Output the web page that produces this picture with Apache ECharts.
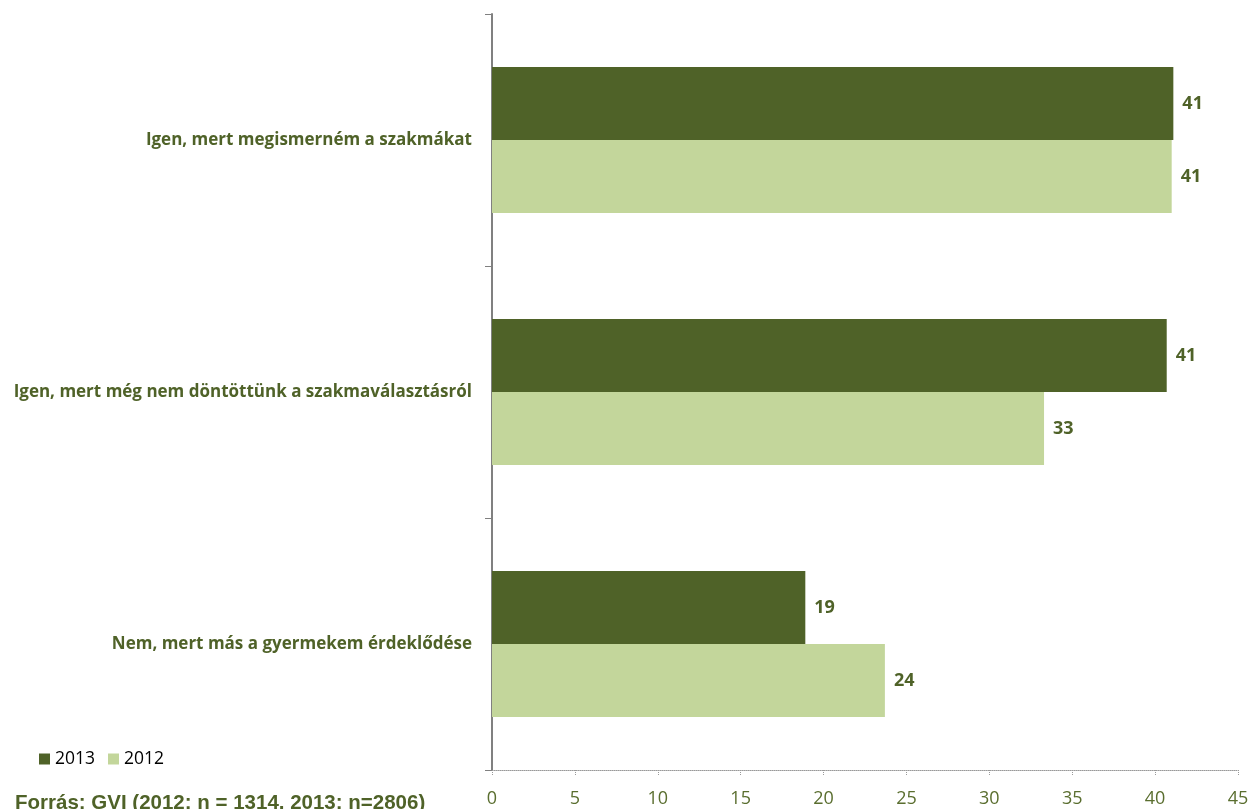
<!DOCTYPE html>
<html><head><meta charset="utf-8">
<script src="https://cdn.jsdelivr.net/npm/echarts@6/dist/echarts.min.js"></script>
<style>html,body{margin:0;padding:0;background:#fff}#c{width:1258px;height:809px}</style>
</head><body><div id="c"></div>
<script>
const categories = ["Igen, mert megismerném a szakmákat", "Igen, mert még nem döntöttünk a szakmaválasztásról", "Nem, mert más a gyermekem érdeklődése"];
const seriesNames = ["2013", "2012"];
const values2013 = [41.1, 40.7, 18.9];
const values2012 = [41.0, 33.3, 23.7];
const xTicks = [0, 5, 10, 15, 20, 25, 30, 35, 40, 45];
const sourceText = "Forrás: GVI (2012: n = 1314, 2013: n=2806)";

const green = '#4f6228';
const chart = echarts.init(document.getElementById('c'), null, {renderer: 'canvas'});
const labelCfg = {show: true, position: 'right', distance: 9, color: green, fontWeight: 'bold', fontSize: 18, fontFamily: 'Open Sans', formatter: p => Math.round(p.value)};
chart.setOption({
  animation: false,
  grid: {left: 492, right: 20, top: 14, bottom: 39},
  legend: {left: 34, top: 745, itemWidth: 11, itemHeight: 11, itemGap: 13, icon: 'rect',
    textStyle: {color: '#000', fontSize: 17.5, fontFamily: 'Open Sans'}, data: seriesNames},
  xAxis: {type: 'value', min: xTicks[0], max: xTicks[xTicks.length-1], interval: 5,
    axisLine: {show: true, lineStyle: {color: '#999', type: 'dotted', width: 1}},
    axisTick: {show: true, lineStyle: {color: '#999', type: 'dotted'}, length: 6},
    splitLine: {show: false},
    axisLabel: {color: '#5a6e2f', fontSize: 18, fontFamily: 'Open Sans', margin: 20}},
  yAxis: {type: 'category', data: categories, inverse: true,
    axisLine: {show: true, lineStyle: {color: '#808080', width: 2}},
    axisTick: {show: true, length: 7, lineStyle: {color: '#808080', width: 1}},
    axisLabel: {color: green, fontWeight: 'bold', fontSize: 17, fontFamily: 'Open Sans', margin: 20}},
  series: [
    {name: seriesNames[0], type: 'bar', data: values2013, itemStyle: {color: green}, barGap: '0%', barCategoryGap: '42%', label: labelCfg},
    {name: seriesNames[1], type: 'bar', data: values2012, itemStyle: {color: '#c3d69b'}, barGap: '0%', barCategoryGap: '42%', label: labelCfg}
  ],
  graphic: [{type: 'text', left: 15, top: 793, style: {text: sourceText, fill: green, font: 'bold 20.5px "Liberation Sans", Arial'}}]
});
</script></body></html>
